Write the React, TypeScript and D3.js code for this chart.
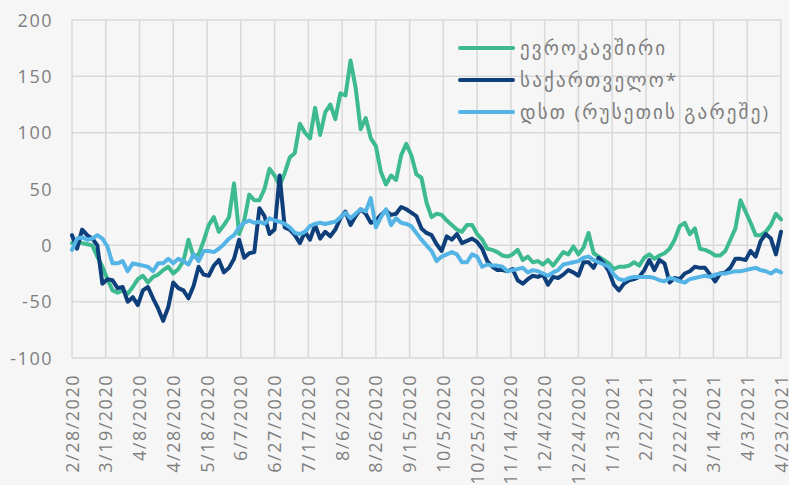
import React, { useEffect, useRef } from "react";
import * as d3 from "d3";

// x axis tick labels (every 20 days)
const tickLabels = [
  "2/28/2020", "3/19/2020", "4/8/2020", "4/28/2020", "5/18/2020", "6/7/2020",
  "6/27/2020", "7/17/2020", "8/6/2020", "8/26/2020", "9/15/2020", "10/5/2020",
  "10/25/2020", "11/14/2020", "12/4/2020", "12/24/2020", "1/13/2021", "2/2/2021",
  "2/22/2021", "3/14/2021", "4/3/2021", "4/23/2021",
];

const yTicks = [-100, -50, 0, 50, 100, 150, 200];

const seriesNames = ["ევროკავშირი", "საქართველო*", "დსთ (რუსეთის გარეშე)"];
const seriesColors = ["#3dba8f", "#0f3f7b", "#55b4e6"];

// values read every 3 days starting 2/28/2020
const stepDays = 3;

const euValues = [
  2, 3, 2, 1, 0, -10, -19, -30, -40, -42,
  -40, -43, -37, -30, -27, -33, -28, -26, -22, -19,
  -25, -21, -14, 5, -10, -8, 4, 18, 25, 12,
  18, 25, 55, 10, 22, 45, 40, 40, 50, 68,
  62, 53, 64, 78, 82, 108, 100, 95, 122, 98,
  118, 125, 112, 135, 133, 164, 140, 103, 113, 95,
  88, 65, 54, 62, 58, 80, 90, 80, 63, 60,
  38, 25, 28, 27, 22, 18, 14, 12, 18, 18,
  10, 5, -3, -4, -6, -9, -10, -8, -4, -13,
  -10, -15, -14, -17, -13, -18, -12, -6, -8, -1,
  -8, -2, 11, -7, -10, -13, -16, -21, -19, -19,
  -18, -15, -18, -11, -8, -12, -9, -7, -3, 5,
  17, 20, 10, 15, -3, -4, -6, -9, -9, -5,
  5, 15, 40, 30, 20, 9, 9, 12, 18, 28,
  23,
];

const geoValues = [
  9, -3, 14, 9, 6, 0, -34, -30, -31, -38,
  -37, -50, -46, -53, -40, -37, -47, -56, -67, -55,
  -33, -38, -40, -47, -36, -19, -26, -27, -18, -13,
  -24, -20, -12, 5, -11, -7, -6, 33, 26, 10,
  14, 62, 16, 14, 9, 2, 12, 5, 18, 6,
  12, 8, 14, 24, 30, 18, 26, 32, 28, 20,
  22, 27, 31, 27, 28, 34, 32, 29, 26, 15,
  11, 9, 1, -5, 8, 5, 10, 2, 4, 6,
  3, -3, -14, -19, -22, -22, -23, -21, -31, -34,
  -30, -27, -28, -26, -35, -28, -29, -26, -22, -24,
  -27, -15, -15, -20, -11, -16, -23, -35, -40, -34,
  -31, -30, -28, -22, -13, -22, -13, -16, -33, -29,
  -30, -25, -23, -19, -20, -20, -26, -32, -25, -24,
  -20, -12, -12, -13, -5, -10, 4, 10, 6, -8,
  12,
];

const cisValues = [
  -4, 6, 7, 5, 6, 9, 6, -1, -16, -16,
  -14, -23, -16, -17, -18, -19, -23, -16, -16, -12,
  -16, -12, -14, -17, -8, -14, -5, -5, -6, -3,
  1, 6, 9, 16, 20, 22, 20, 21, 19, 24,
  22, 21, 19, 16, 11, 10, 12, 17, 19, 20,
  19, 20, 21, 25, 29, 24, 28, 32, 30, 42,
  16, 25, 32, 18, 24, 20, 19, 17, 11, 5,
  0, -5, -14, -10, -8, -6, -8, -15, -15, -8,
  -10, -19, -17, -18, -18, -19, -23, -22, -21, -20,
  -24, -22, -23, -25, -27, -24, -22, -17, -16, -15,
  -14, -11, -10, -13, -15, -17, -19, -26, -30, -31,
  -29, -28, -28, -28, -28, -29, -31, -32, -29, -30,
  -32, -33, -30, -29, -28, -27, -28, -26, -25, -25,
  -24, -23, -23, -22, -21, -20, -22, -23, -25, -22,
  -24,
];

const App = () => {
  const ref = useRef<HTMLDivElement>(null);

  useEffect(() => {
    drawChart();
  }, []);

  const drawChart = () => {
    const width = 789,
      height = 485;
    const left = 72,
      right = 781,
      top = 20,
      bottom = 358;
    const textColor = "#7f7f7f";
    const font = "'Open Sans', 'DejaVu Sans', sans-serif";

    const parse = d3.timeParse("%m/%d/%Y");
    const tickDates = tickLabels.map((t) => parse(t) as Date);
    const start = tickDates[0];

    const svg = d3
      .select(ref.current)
      .html("")
      .append("svg")
      .attr("width", width)
      .attr("height", height)
      .style("position", "absolute")
      .style("left", 0)
      .style("top", 0);

    svg.append("rect").attr("width", width).attr("height", height).attr("fill", "#f6f6f6");

    const x = d3
      .scaleTime()
      .domain([start, tickDates[tickDates.length - 1]])
      .range([left, right]);
    const y = d3.scaleLinear().domain([-100, 200]).range([bottom, top]);

    const grid = svg.append("g").attr("stroke", "#d9d9d9").attr("stroke-width", 1.5);
    grid
      .selectAll("line.h")
      .data(yTicks)
      .join("line")
      .attr("x1", left)
      .attr("x2", right)
      .attr("y1", (d) => y(d))
      .attr("y2", (d) => y(d));
    grid
      .selectAll("line.v")
      .data(tickDates)
      .join("line")
      .attr("x1", (d) => x(d))
      .attr("x2", (d) => x(d))
      .attr("y1", top)
      .attr("y2", bottom);

    svg
      .append("g")
      .selectAll("text")
      .data(yTicks)
      .join("text")
      .attr("x", 53)
      .attr("y", (d) => y(d) + 6.5)
      .attr("text-anchor", "end")
      .attr("fill", textColor)
      .style("font-family", font)
      .style("font-size", "18px")
      .style("letter-spacing", "1.5px")
      .text((d) => d);

    svg
      .append("g")
      .selectAll("text")
      .data(tickDates)
      .join("text")
      .attr("transform", (d) => `translate(${x(d) + 6.5},374) rotate(-90)`)
      .attr("text-anchor", "end")
      .attr("fill", textColor)
      .style("font-family", font)
      .style("font-size", "18px")
      .style("letter-spacing", "1.5px")
      .text((d, i) => tickLabels[i]);

    const allSeries = [euValues, geoValues, cisValues];
    const line = d3
      .line<number>()
      .x((d, i) => x(d3.timeDay.offset(start, i * stepDays)))
      .y((d) => y(d));

    svg
      .append("g")
      .selectAll("path")
      .data(allSeries)
      .join("path")
      .attr("d", (d) => line(d))
      .attr("fill", "none")
      .attr("stroke", (d, i) => seriesColors[i])
      .attr("stroke-width", 4)
      .attr("stroke-linejoin", "round")
      .attr("stroke-linecap", "round");

    const legend = svg
      .append("g")
      .selectAll("g")
      .data(seriesNames)
      .join("g")
      .attr("transform", (d, i) => `translate(460,${48 + i * 32})`);
    legend
      .append("line")
      .attr("x1", 0)
      .attr("x2", 53)
      .attr("stroke", (d, i) => seriesColors[i])
      .attr("stroke-width", 4)
      .attr("stroke-linecap", "round");
    legend
      .append("text")
      .attr("x", 60)
      .attr("y", 7)
      .attr("fill", textColor)
      .style("font-family", font)
      .style("font-size", "19px")
      .style("letter-spacing", "2.2px")
      .text((d) => d);
  };

  return <div ref={ref}></div>;
};

export default App;
